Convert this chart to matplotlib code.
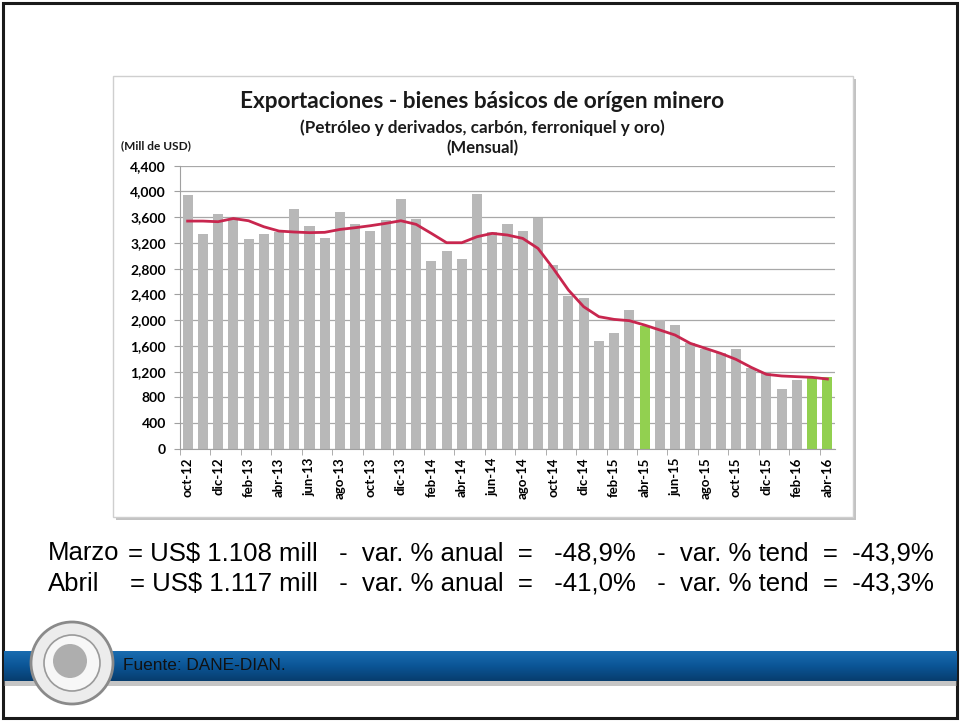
import numpy as np
import matplotlib
matplotlib.use("Agg")
import matplotlib.pyplot as plt
from matplotlib.patches import Rectangle, Circle

# meses oct-12 .. abr-16
meses = ['ene', 'feb', 'mar', 'abr', 'may', 'jun', 'jul', 'ago', 'sep', 'oct', 'nov', 'dic']
categorias = [f'{m}-{a}' for a in range(12, 17) for m in meses]
categorias = categorias[categorias.index('oct-12'):categorias.index('abr-16') + 1]

# exportaciones mensuales (Mill de USD)
exportaciones = [3944, 3338, 3649, 3566, 3261, 3333, 3375, 3732, 3468, 3271, 3685, 3489, 3385, 3556, 3880,
                 3566, 2919, 3080, 2945, 3954, 3375, 3489, 3390, 3592, 2857, 2381, 2350,
                 1682, 1806, 2158, 1910, 2003, 1925, 1641, 1553, 1485, 1553, 1253, 1175, 932, 1071, 1108, 1117]

# tendencia
tendencia = [3540, 3540, 3530, 3580, 3545, 3452, 3385, 3370, 3360, 3365, 3410, 3437, 3468, 3504, 3545,
             3489, 3349, 3204, 3204, 3297, 3349, 3323, 3271, 3116, 2805, 2469, 2210,
             2055, 2013, 1993, 1925, 1848, 1770, 1641, 1563, 1485, 1392, 1268, 1159, 1134, 1123, 1113, 1087]

destacados = ['abr-15', 'mar-16', 'abr-16']

yticks = list(range(0, 4401, 400))

# lineas de resumen
resumen = [
    ('Marzo', '= US$ 1.108 mill   -  var. % anual  =   -48,9%   -  var. % tend  =  -43,9%'),
    ('Abril', '= US$ 1.117 mill   -  var. % anual  =   -41,0%   -  var. % tend  =  -43,3%'),
]

fig = plt.figure(figsize=(9.6, 7.21), dpi=100)

# fondo en coordenadas de pixel
bg = fig.add_axes([0, 0, 1, 1])
bg.axis('off')

# marco de la diapositiva
bg.add_patch(Rectangle((3, 3), 954, 715, fill=False, ec='#1a1a1a', lw=2.2))

# caja del grafico con sombra
bg.add_patch(Rectangle((116, 79), 740, 441, fc='#9a9a9a', ec='none', alpha=0.6))
bg.add_patch(Rectangle((113, 76), 740, 441, fc='white', ec='#cfcfcf', lw=1))

# titulos
bg.text(482, 101, 'Exportaciones - bienes básicos de orígen minero', ha='center', va='center',
        fontsize=16.3, fontweight='bold', family='Lato', color='#1a1a1a')
bg.text(482, 128, '(Petróleo y derivados, carbón, ferroniquel y oro)', ha='center', va='center',
        fontsize=12.3, fontweight='bold', family='Lato', color='#1a1a1a')
bg.text(482, 148, '(Mensual)', ha='center', va='center',
        fontsize=12, fontweight='bold', family='Lato', color='#1a1a1a')
bg.text(156, 146, '(Mill de USD)', ha='center', va='center',
        fontsize=8.6, fontweight='bold', family='Lato', color='#1a1a1a')

# textos de resumen
fam_txt = ['Liberation Sans', 'DejaVu Sans']
for (mes, resto), y, x0 in zip(resumen, [553, 584], [128, 130]):
    bg.text(48, y, mes, ha='left', va='center', fontsize=18.5, family=fam_txt)
    bg.text(x0, y, resto, ha='left', va='center', fontsize=18.5, family=fam_txt)

# franja azul inferior
grad = np.linspace(0, 1, 50).reshape(-1, 1)
cmap = matplotlib.colors.LinearSegmentedColormap.from_list('banda', ['#1a6cb0', '#0b5596', '#073d6e'])
bg.imshow(grad, cmap=cmap, aspect='auto', extent=[4, 957, 681, 651], zorder=1)
bg.add_patch(Rectangle((4, 681), 953, 5, fc='#8c8c8c', ec='none', alpha=0.5, zorder=1))
bg.set_xlim(0, 960)
bg.set_ylim(721, 0)

# logo (simplificado)
bg.add_patch(Circle((72, 663), 41, fc='#ececec', ec='#8a8a8a', lw=2, zorder=2))
bg.add_patch(Circle((72, 663), 28, fc='#f7f7f7', ec='#9a9a9a', lw=1.2, zorder=3))
bg.add_patch(Circle((70, 661), 17, fc='#8f8f8f', ec='none', alpha=0.7, zorder=4))

bg.text(123, 665, 'Fuente: DANE-DIAN.', ha='left', va='center', fontsize=12.4,
        family=fam_txt, color='#111111', zorder=5)

# grafico principal
ax = fig.add_axes([180 / 960, 1 - 449 / 721, 655 / 960, (449 - 165.7) / 721])
x = np.arange(len(categorias))
colores = ['#92d050' if c in destacados else '#b8b8b8' for c in categorias]
ax.bar(x, exportaciones, width=0.66, color=colores, zorder=2)
ax.plot(x, tendencia, color='#c8264e', lw=2, zorder=3)

ax.set_xlim(-0.5, len(categorias) - 0.5)
ax.set_ylim(0, 4400)
ax.set_yticks(yticks)
ax.set_yticklabels([f'{v:,}' for v in yticks], fontsize=10, fontweight='bold', family='Lato')
ax.yaxis.grid(True, color='#a8a8a8', lw=0.9, zorder=0)
ax.set_axisbelow(True)

ax.set_xticks(x[::2])
ax.set_xticklabels(categorias[::2], rotation=90, fontsize=9.5, fontweight='bold', family='Lato')
ax.set_xticks(x[::2] - 0.5, minor=True)
ax.tick_params(axis='x', which='major', length=0, pad=6)
ax.tick_params(axis='x', which='minor', length=4, color='#a0a0a0')
ax.tick_params(axis='y', length=4, color='#a0a0a0', pad=6)

for s in ['top', 'right']:
    ax.spines[s].set_visible(False)
ax.spines['left'].set_color('#a0a0a0')
ax.spines['bottom'].set_color('#a0a0a0')

fig.savefig('out.png', dpi=100)
